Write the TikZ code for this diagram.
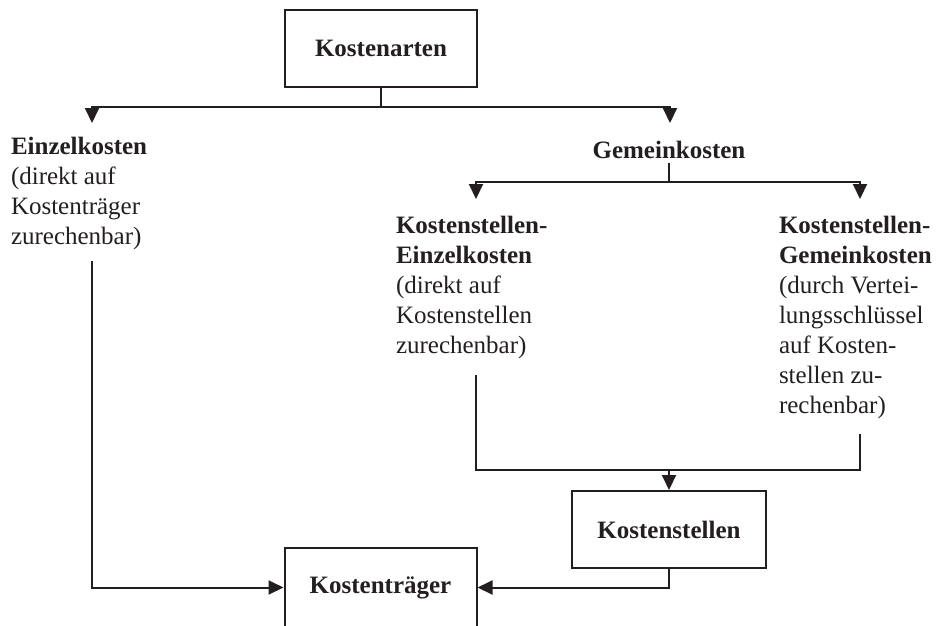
\documentclass[tikz,border=0pt]{standalone}
\usepackage{fontspec}
\setmainfont{Liberation Serif}
\usetikzlibrary{arrows.meta}

\definecolor{ink}{RGB}{35,31,32}

\tikzset{
  every box/.style={draw=ink, text=ink, line width=2pt, minimum width=192pt,
    minimum height=77pt, inner sep=0pt, font=\bfseries\fontsize{25}{30}\selectfont},
  box stellen/.style={minimum width=194pt},
  box traeger/.style={minimum height=79pt},
  every block/.style={text=ink, align=left, inner sep=0pt, anchor=north west,
    font=\fontsize{25}{30}\selectfont},
}

\begin{document}
\begin{tikzpicture}[x=1pt, y=-1pt, >={Triangle[width=14pt,length=15pt]},
  line width=2pt, draw=ink]

  \useasboundingbox (0,0) rectangle (940,625);

  % boxes
  \foreach \n/\l/\x/\y in {arten/Kostenarten/381/48.5, stellen/Kostenstellen/669/529.5,
      traeger/Kostenträger/380.5/587.5}
    \node [every box/.try, box \n/.try] (\n) at (\x,\y) {\l};

  % text blocks
  \node [every block/.try] (einzel) at (10,136)
    {\textbf{Einzelkosten}\\(direkt auf\\Kostenträger\\zurechenbar)};
  \node [every block/.try, anchor=base] (gemein) at (669,158) {\textbf{Gemeinkosten}};
  \node [every block/.try] (ksein) at (395,215)
    {\textbf{Kostenstellen-}\\\textbf{Einzelkosten}\\(direkt auf\\Kostenstellen\\zurechenbar)};
  \node [every block/.try] (ksgem) at (778,215)
    {\textbf{Kostenstellen-}\\\textbf{Gemeinkosten}\\(durch Vertei-\\lungsschlüssel\\auf Kosten-\\stellen zu-\\rechenbar)};

  % free ends of the lines
  \foreach \n/\x/\y in {einzel-in/92/123, einzel-out/92/261, gemein-in/670/123,
      gemein-out/669/163, ksein-in/476/199, ksein-out/476/375,
      ksgem-in/860/199, ksgem-out/860/434, join/669/470}
    \coordinate (\n) at (\x,\y);

  % lines from Kostenarten
  \foreach \j in {einzel-in, gemein-in}
    \draw [->] (arten.south) -- ++(0,19) -| (\j);

  % lines from Gemeinkosten
  \foreach \j in {ksein-in, ksgem-in}
    \draw [->] (gemein-out) -- ++(0,19) -| (\j);

  % lines to Kostenstellen
  \draw (ksein-out) |- (join) -| (ksgem-out);
  \draw [->] (join) -- (stellen.north);

  % lines to Kostentraeger
  \draw [->] (einzel-out) |- (traeger.west);
  \draw [->] (stellen.south) |- (traeger.east);

\end{tikzpicture}
\end{document}
